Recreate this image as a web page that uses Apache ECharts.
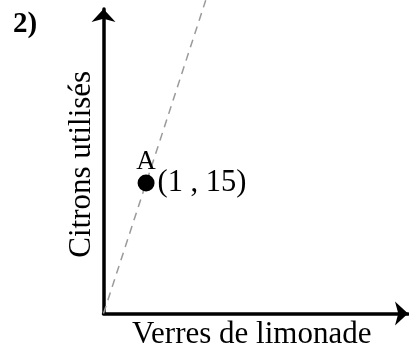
<!DOCTYPE html>
<html>
<head>
<meta charset="utf-8">
<script src="https://cdn.jsdelivr.net/npm/echarts@6/dist/echarts.min.js"></script>
<style>html,body{margin:0;padding:0;background:#fff}#c{width:409px;height:352px}</style>
</head>
<body>
<div id="c"></div>
<script>
// Data
var pointX = [1];
var pointY = [15];
var pointName = ['A'];
var pointLabel = ['(1 , 15)'];
var lineX = [0, 2.4];
var lineY = [0, 36];
var xMax = 7.15;
var yMax = 35;
var xTitle = 'Verres de limonade';
var yTitle = 'Citrons utilisés';
var panelLabel = '2)';

var font = '"Liberation Serif", "Times New Roman", serif';
var chart = echarts.init(document.getElementById('c'));
chart.setOption({
  animation: false,
  backgroundColor: '#fff',
  title: {
    text: panelLabel, left: 8, top: 5,
    textStyle: {fontFamily: font, fontWeight: 'bold', fontSize: 29, color: '#000'}
  },
  grid: {left: 103.5, right: 1, top: 9, bottom: 38.5, outerBoundsMode: 'none', containLabel: false},
  xAxis: {
    type: 'value', min: 0, max: xMax,
    name: xTitle, nameLocation: 'middle', nameGap: 6,
    nameTextStyle: {fontFamily: font, fontSize: 31, color: '#000', verticalAlign: 'top', padding: [0, 8, 0, 0]},
    axisLine: {show: true, lineStyle: {color: '#000', width: 3.5}, symbol: ['none', 'arrow'], symbolSize: [18, 13]},
    axisTick: {show: false}, axisLabel: {show: false}, splitLine: {show: false}
  },
  yAxis: {
    type: 'value', min: 0, max: yMax,
    name: yTitle, nameLocation: 'middle', nameGap: 6,
    nameTextStyle: {fontFamily: font, fontSize: 31, color: '#000', padding: [0, 6, 0, 0]},
    axisLine: {show: true, lineStyle: {color: '#000', width: 3.5}, symbol: ['none', 'arrow'], symbolSize: [18, 13]},
    axisTick: {show: false}, axisLabel: {show: false}, splitLine: {show: false}
  },
  series: [
    {
      type: 'line', clip: false, symbol: 'none', silent: true, z: 1,
      data: lineX.map(function (x, i) { return [x, lineY[i]]; }),
      lineStyle: {color: '#9a9a9a', width: 1.5, type: [8, 6]}
    },
    {
      type: 'scatter', symbolSize: 17, z: 5, itemStyle: {color: '#000', opacity: 1},
      data: pointX.map(function (x, i) { return [x, pointY[i]]; }),
      label: {show: true, position: 'right', distance: 3, formatter: function (p) { return pointLabel[p.dataIndex]; },
        fontFamily: font, fontSize: 30.5, color: '#000'}
    },
    {
      type: 'scatter', symbolSize: 17, z: 5, itemStyle: {color: 'rgba(0,0,0,0)', opacity: 1},
      data: pointX.map(function (x, i) { return [x, pointY[i]]; }),
      label: {show: true, position: 'top', distance: -1, formatter: function (p) { return pointName[p.dataIndex]; },
        fontFamily: font, fontSize: 27, color: '#000'}
    }
  ]
});
</script>
</body>
</html>
